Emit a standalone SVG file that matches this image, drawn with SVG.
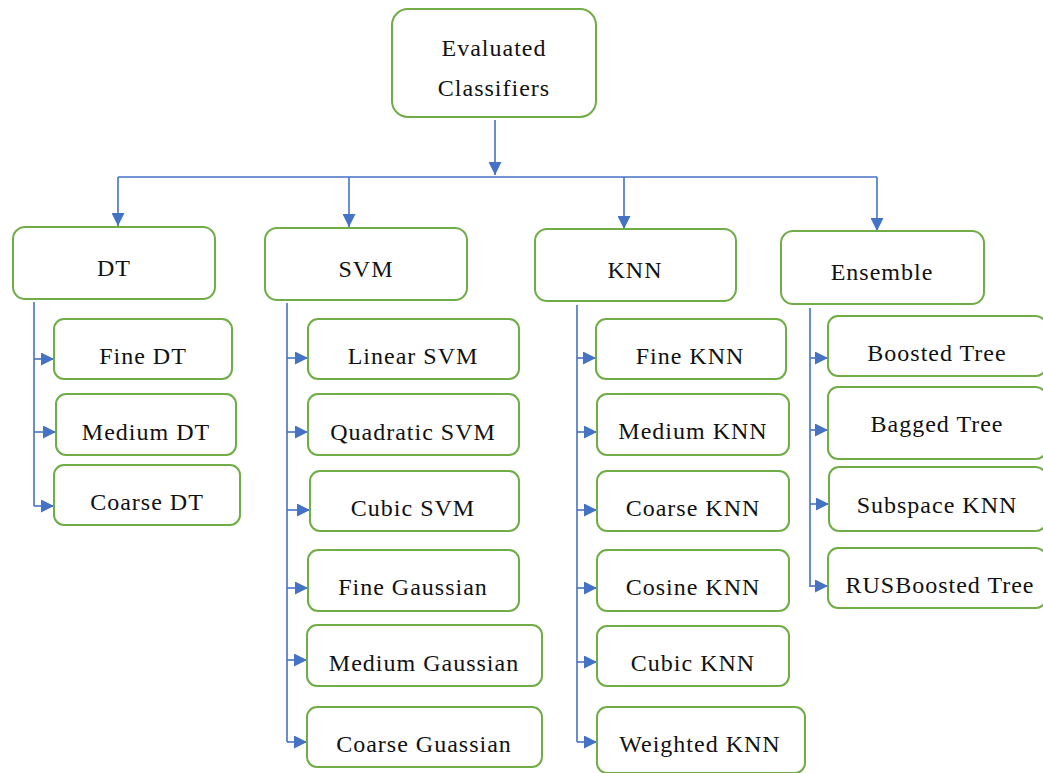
<svg xmlns="http://www.w3.org/2000/svg" width="1043" height="773" viewBox="0 0 1043 773">
<style>
.n rect{fill:#fff;stroke:#70AD47;stroke-width:2}
.n text{font-family:"Liberation Serif",serif;font-size:24px;letter-spacing:1px;fill:#111;text-anchor:middle;dominant-baseline:central}
.c path{fill:none;stroke:#4472C4;stroke-width:1.6}
</style>
<defs>
<marker id="b" viewBox="0 0 10 10" refX="10" refY="5" markerWidth="13" markerHeight="13" markerUnits="userSpaceOnUse" orient="auto">
<path d="M0,0L10,5L0,10z" fill="#4472C4"/>
</marker>
</defs>
<g class="c">
<path d="M495,120V175" marker-end="url(#b)"/>
<path d="M118,177H877"/>
<path d="M118,177V226" marker-end="url(#b)"/>
<path d="M349,177V227" marker-end="url(#b)"/>
<path d="M624,177V229" marker-end="url(#b)"/>
<path d="M877,177V231" marker-end="url(#b)"/>
<path d="M34,302V506"/>
<path d="M34,359H54" marker-end="url(#b)"/>
<path d="M34,432H56" marker-end="url(#b)"/>
<path d="M34,506H54" marker-end="url(#b)"/>
<path d="M287,303V742"/>
<path d="M287,358H308" marker-end="url(#b)"/>
<path d="M287,432H308" marker-end="url(#b)"/>
<path d="M287,510H310" marker-end="url(#b)"/>
<path d="M287,588H308" marker-end="url(#b)"/>
<path d="M287,660H307" marker-end="url(#b)"/>
<path d="M287,742H307" marker-end="url(#b)"/>
<path d="M577,305V742"/>
<path d="M577,358H596" marker-end="url(#b)"/>
<path d="M577,432H597" marker-end="url(#b)"/>
<path d="M577,510H597" marker-end="url(#b)"/>
<path d="M577,588H597" marker-end="url(#b)"/>
<path d="M577,662H597" marker-end="url(#b)"/>
<path d="M577,742H597" marker-end="url(#b)"/>
<path d="M810,308V587"/>
<path d="M810,358H828" marker-end="url(#b)"/>
<path d="M810,430H828" marker-end="url(#b)"/>
<path d="M810,504H829" marker-end="url(#b)"/>
<path d="M810,586H828" marker-end="url(#b)"/>
</g>
<g id="root" class="n"><rect x="392" y="9" width="204" height="108" rx="16"/><text x="494" y="48">Evaluated</text><text x="494" y="88">Classifiers</text></g>
<g id="dt" class="n"><rect x="13" y="227" width="202" height="72" rx="12"/><text x="114" y="268">DT</text></g>
<g id="svm" class="n"><rect x="265" y="228" width="202" height="72" rx="12"/><text x="366" y="269">SVM</text></g>
<g id="knn" class="n"><rect x="535" y="229" width="201" height="72" rx="12"/><text x="635" y="270">KNN</text></g>
<g id="ens" class="n"><rect x="781" y="231" width="203" height="73" rx="12"/><text x="882" y="272">Ensemble</text></g>
<g id="finedt" class="n"><rect x="54" y="319" width="178" height="60" rx="10"/><text x="143" y="356">Fine DT</text></g>
<g id="mediumdt" class="n"><rect x="56" y="394" width="180" height="61" rx="10"/><text x="146" y="432">Medium DT</text></g>
<g id="coarsedt" class="n"><rect x="54" y="465" width="186" height="60" rx="10"/><text x="147" y="502">Coarse DT</text></g>
<g id="linsvm" class="n"><rect x="308" y="319" width="211" height="60" rx="10"/><text x="413" y="356">Linear SVM</text></g>
<g id="quadsvm" class="n"><rect x="308" y="394" width="211" height="61" rx="10"/><text x="413" y="432">Quadratic SVM</text></g>
<g id="cubsvm" class="n"><rect x="310" y="471" width="209" height="60" rx="10"/><text x="413" y="508">Cubic SVM</text></g>
<g id="finegauss" class="n"><rect x="308" y="550" width="211" height="61" rx="10"/><text x="413" y="587">Fine Gaussian</text></g>
<g id="medgauss" class="n"><rect x="307" y="625" width="235" height="61" rx="10"/><text x="424" y="663">Medium Gaussian</text></g>
<g id="coarsegauss" class="n"><rect x="307" y="707" width="235" height="60" rx="10"/><text x="424" y="744">Coarse Guassian</text></g>
<g id="fineknn" class="n"><rect x="596" y="319" width="190" height="60" rx="10"/><text x="690" y="356">Fine KNN</text></g>
<g id="medknn" class="n"><rect x="597" y="394" width="192" height="61" rx="10"/><text x="693" y="431">Medium KNN</text></g>
<g id="coarseknn" class="n"><rect x="597" y="471" width="192" height="60" rx="10"/><text x="693" y="508">Coarse KNN</text></g>
<g id="cosknn" class="n"><rect x="597" y="550" width="192" height="61" rx="10"/><text x="693" y="587">Cosine KNN</text></g>
<g id="cubknn" class="n"><rect x="597" y="626" width="192" height="60" rx="10"/><text x="693" y="663">Cubic KNN</text></g>
<g id="wknn" class="n"><rect x="597" y="707" width="208" height="66" rx="10"/><text x="700" y="744">Weighted KNN</text></g>
<g id="boosted" class="n"><rect x="828" y="316" width="218" height="60" rx="10"/><text x="937" y="353">Boosted Tree</text></g>
<g id="bagged" class="n"><rect x="828" y="387" width="218" height="72" rx="10"/><text x="937" y="424">Bagged Tree</text></g>
<g id="subspace" class="n"><rect x="829" y="467" width="217" height="64" rx="10"/><text x="937" y="505">Subspace KNN</text></g>
<g id="rusboost" class="n"><rect x="828" y="548" width="218" height="60" rx="10"/><text x="940" y="585">RUSBoosted Tree</text></g>
</svg>
